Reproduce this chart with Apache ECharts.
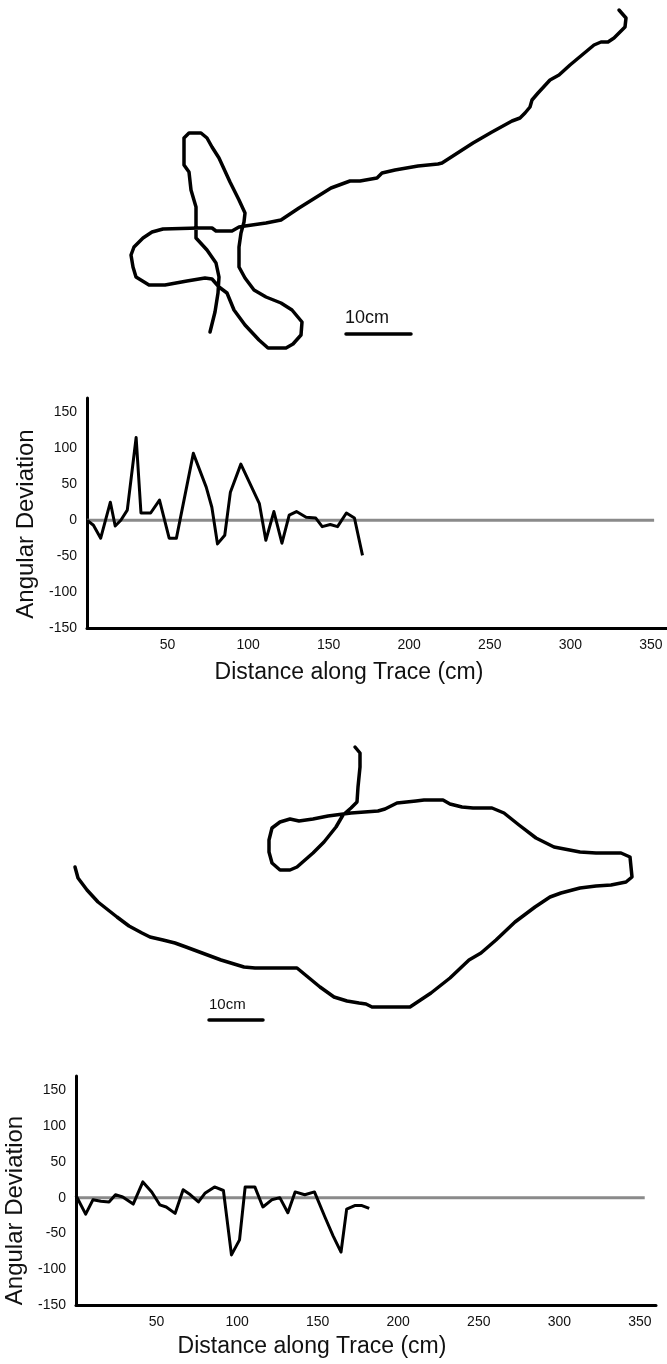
<!DOCTYPE html>
<html>
<head>
<meta charset="utf-8">
<script src="https://cdn.jsdelivr.net/npm/echarts@6/dist/echarts.min.js"></script>
<style>
    html, body { margin: 0; padding: 0; background: #fff; }
    #main { width: 667px; height: 1364px; }
</style>
</head>
<body>
<div id="main"></div>
<script>
// trace drawings, in figure units (same scale as the page)
var traceOne = [[619,10],[626,18],[625,27],[614,38],[608,42],[601,42],[594,45],[570,65],[559,75],[550,80],
    [538,93],[532,100],[530,107],[525,113],[520,118],[512,121],[492,132],[473,143],[442,163],[438,164],
    [418,166],[395,170],[382,173],[377,178],[360,181],[350,181],[331,188],[299,208],[281,220],[266,223],
    [245,226],[239,227],[232,231],[216,231],[212,228],[199,228],[163,229],[152,232],[143,238],[134,247],
    [131,255],[133,267],[136,277],[149,285],[165,285],[187,281],[205,278],[212,279],[219,287],[227,293],
    [234,310],[245,325],[259,340],[268,348],[286,348],[293,344],[301,335],[302,322],[292,310],[281,303],
    [266,297],[254,290],[245,278],[239,267],[239,247],[241,233],[244,222],[245,213],[239,200],[230,182],
    [219,158],[212,147],[207,138],[201,133],[189,133],[184,138],[184,165],[189,172],[191,190],[196,207],
    [196,238],[207,250],[216,263],[219,277],[218,293],[215,312],[210,332]];
var traceTwo = [[355,747],[360,753],[360,767],[358,787],[357,802],[351,808],[343,815],[336,827],[324,842],[313,853],
    [297,867],[290,870],[280,870],[272,863],[269,852],[269,840],[272,828],[280,822],[290,819],[299,821],
    [313,819],[328,816],[351,813],[378,811],[385,809],[397,803],[416,801],[424,800],[443,800],[450,804],
    [462,807],[473,808],[492,808],[504,813],[519,825],[536,838],[554,847],[580,852],[596,853],[621,853],
    [630,857],[632,877],[626,882],[611,885],[596,886],[580,888],[561,893],[550,897],[535,907],[515,922],
    [496,940],[481,953],[469,960],[450,978],[431,993],[410,1007],[372,1007],[366,1004],[359,1003],[347,1001],
    [334,997],[320,987],[297,968],[255,968],[244,967],[221,960],[186,947],[175,943],[163,940],[150,937],
    [142,933],[129,926],[117,917],[98,902],[87,890],[78,878],[75,867]];
var scaleBarOne = [[346,334],[411,334]];
var scaleBarTwo = [[209,1020],[263,1020]];

// angular deviation along each trace
var distOne = [0,4,8.5,14.5,17.5,21,25,30.5,33.5,39.5,45,51,55.5,66,74,77.5,81,85.5,89,95.5,
    107,111,116,121,125.5,130,136,142,146,151,155.5,161,166,171];
var devOne = [0,-7,-25,25,-8,0,14,115,10,10,28,-25,-25,93,46,18,-33,-21,39,78,
    23,-28,12,-32,7,12,4,3,-9,-6,-9,10,3,-49];
var distTwo = [0,6,10.5,15.5,20.5,24.5,29,35.5,41.5,47,52,56,61.5,66.5,71,76,80,86,91.5,96.5,
    101.5,105,111,116,121.5,126.5,131.5,136,142,148,154.5,159.5,164.5,168,173,177.5,182];
var devTwo = [3,-23,-3,-5,-6,4,1,-9,22,8,-10,-13,-22,11,4,-6,6,15,10,-80,
    -59,15,15,-13,-3,0,-21,8,4,8,-27,-53,-76,-16,-11,-11,-15];
var zeroLineOne = [[0,0],[352,0]];
var zeroLineTwo = [[0,0],[353,0]];

var xMin = 0, xMax = 360, xStep = 50;
var yMin = -150, yMax = 170, yStep = 50;

function zip(xs, ys) {
    return xs.map(function(x, i) { return [x, ys[i]]; });
}

var myChart = echarts.init(document.getElementById('main'));
var font = 'Liberation Sans';

function distAxis(idx, gap, pad) {
    return {
        type: 'value', gridIndex: idx, min: xMin, max: xMax, interval: xStep,
        name: 'Distance along Trace (cm)', nameLocation: 'middle', nameGap: gap,
        nameTextStyle: { fontFamily: font, fontSize: 23, color: '#111', padding: [0, pad, 0, 0] },
        axisLine: { onZero: false, lineStyle: { color: '#000', width: 3 } },
        axisTick: { show: false },
        splitLine: { show: false },
        axisLabel: { showMinLabel: false, showMaxLabel: false, margin: 10,
            fontFamily: font, fontSize: 14, color: '#111' }
    };
}
function devAxis(idx, gap, pad) {
    return {
        type: 'value', gridIndex: idx, min: yMin, max: yMax, interval: yStep,
        name: 'Angular Deviation', nameLocation: 'middle', nameGap: gap,
        nameTextStyle: { fontFamily: font, fontSize: 24, color: '#111', padding: [0, pad, 0, 0] },
        axisLine: { onZero: false, lineStyle: { color: '#000', width: 3 } },
        axisTick: { show: false },
        splitLine: { show: false },
        axisLabel: { showMaxLabel: false, margin: 10, fontFamily: font, fontSize: 14, color: '#111' }
    };
}
function traceSeries(data) {
    return {
        type: 'line', xAxisIndex: 0, yAxisIndex: 0, data: data, symbol: 'none', silent: true,
        lineStyle: { color: '#000', width: 3.5, join: 'round', cap: 'round' }
    };
}
function devSeries(idx, data, color) {
    return {
        type: 'line', xAxisIndex: idx, yAxisIndex: idx, data: data, symbol: 'none', silent: true,
        lineStyle: { color: color, width: 3, join: 'round' }
    };
}

var option = {
    animation: false,
    backgroundColor: '#fff',
    grid: [
        { left: 0, top: 0, width: 667, height: 1364, outerBoundsMode: 'none' },
        { left: 87, top: 398, width: 580, height: 230, outerBoundsMode: 'none' },
        { left: 76, top: 1076, width: 580, height: 229, outerBoundsMode: 'none' }
    ],
    xAxis: [
        { type: 'value', gridIndex: 0, min: 0, max: 667, show: false },
        distAxis(1, 33, 56),
        distAxis(2, 30, 108)
    ],
    yAxis: [
        { type: 'value', gridIndex: 0, min: 0, max: 1364, inverse: true, show: false },
        devAxis(1, 44, 22),
        devAxis(2, 48, 40)
    ],
    graphic: [
        { type: 'text', left: 345, top: 309, style: { text: '10cm', fontFamily: font, fontSize: 18, fill: '#111' } },
        { type: 'text', left: 209, top: 997, style: { text: '10cm', fontFamily: font, fontSize: 15, fill: '#111' } }
    ],
    series: [
        traceSeries(traceOne),
        traceSeries(traceTwo),
        traceSeries(scaleBarOne),
        traceSeries(scaleBarTwo),
        devSeries(1, zeroLineOne, '#8a8a8a'),
        devSeries(1, zip(distOne, devOne), '#000'),
        devSeries(2, zeroLineTwo, '#8a8a8a'),
        devSeries(2, zip(distTwo, devTwo), '#000')
    ]
};

myChart.setOption(option);
</script>
</body>
</html>
